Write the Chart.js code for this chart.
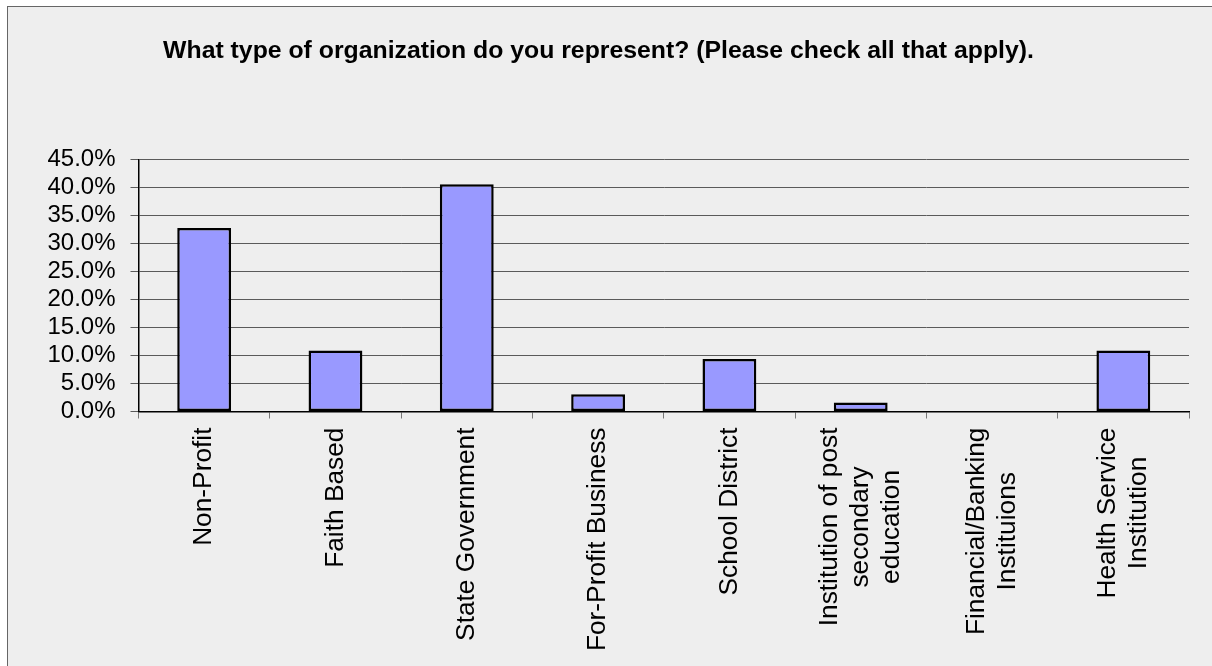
<!DOCTYPE html>
<html>
<head>
<meta charset="utf-8">
<script src="https://cdn.jsdelivr.net/npm/chart.js@4/dist/chart.umd.min.js"></script>
<style>
  html, body { margin: 0; padding: 0; background: #ffffff; }
  #frame { position: absolute; left: 7px; top: 6px; width: 1220px; height: 680px;
           background: #eeeeee; border-left: 1px solid #666; border-top: 1px solid #666; }
  #c { position: absolute; left: 0; top: 0; }
</style>
</head>
<body>
<div id="frame"></div>
<canvas id="c" width="1212" height="666"></canvas>
<script>
const titleText = "What type of organization do you represent? (Please check all that apply).";
const categories = [
  ["Non-Profit"],
  ["Faith Based"],
  ["State Government"],
  ["For-Profit Business"],
  ["School District"],
  ["Institution of post", "secondary", "education"],
  ["Financial/Banking", "Instituions"],
  ["Health Service", "Institution"]
];
const percentValues = [32.8, 10.9, 40.6, 3.1, 9.4, 1.6, 0.0, 10.9];
const yTickMin = 0;
const yTickMax = 45;
const yTickStep = 5;

const FONT = "'Liberation Sans', Arial, Helvetica, sans-serif";
const LABEL_SIZE = 26.3;
const LABEL_LINE = 31;

const xLabelPlugin = {
  id: 'xLabels',
  afterDraw(chart) {
    const sx = chart.scales.x;
    const ctx = chart.ctx;
    ctx.save();
    ctx.font = LABEL_SIZE + "px " + FONT;
    ctx.fillStyle = "#000";
    ctx.textAlign = "center";
    ctx.textBaseline = "middle";
    categories.forEach((lines, i) => {
      const x = sx.getPixelForTick(i);
      const top = sx.top + 16;
      let maxW = 0;
      lines.forEach(l => { maxW = Math.max(maxW, ctx.measureText(l).width); });
      ctx.save();
      ctx.translate(x, top);
      ctx.rotate(-Math.PI / 2);
      const n = lines.length;
      lines.forEach((l, j) => {
        ctx.fillText(l, -maxW / 2, (j - (n - 1) / 2) * LABEL_LINE);
      });
      ctx.restore();
    });
    ctx.restore();
  }
};

new Chart(document.getElementById('c'), {
  type: 'bar',
  data: {
    labels: categories,
    datasets: [{
      data: percentValues,
      backgroundColor: '#9999ff',
      borderColor: '#000000',
      borderWidth: 2.5,
      borderSkipped: false,
      barPercentage: 0.41,
      categoryPercentage: 1.0
    }]
  },
  plugins: [xLabelPlugin],
  options: {
    responsive: false,
    animation: false,
    layout: { padding: { left: 8, right: 23, top: 0, bottom: 0 } },
    plugins: {
      legend: { display: false },
      tooltip: { enabled: false },
      title: {
        display: true,
        text: titleText,
        color: '#000',
        font: { family: FONT, size: 24.8, weight: 'bold', lineHeight: 1.2 },
        padding: { top: 36, bottom: 94 }
      }
    },
    scales: {
      x: {
        grid: { display: true, drawOnChartArea: false, drawTicks: true, tickLength: 7, offset: true, color: '#777' },
        border: { display: true, color: '#000', width: 1.5 },
        ticks: { color: 'rgba(0,0,0,0)', font: { family: FONT, size: LABEL_SIZE }, minRotation: 90, maxRotation: 90, autoSkip: false, padding: 9 },
        afterFit(scale) { scale.height = 254.5; }
      },
      y: {
        min: yTickMin,
        max: yTickMax,
        ticks: {
          stepSize: yTickStep,
          autoSkip: false,
          color: '#000',
          padding: 15,
          font: { family: FONT, size: 24 },
          callback: v => v.toFixed(1) + '%'
        },
        grid: { color: '#5a5a5a', lineWidth: 1, tickLength: 8, drawTicks: true },
        border: { display: true, color: '#000', width: 1.5 },
        afterFit(scale) { scale.width = 130.5; }
      }
    }
  }
});
</script>
</body>
</html>
